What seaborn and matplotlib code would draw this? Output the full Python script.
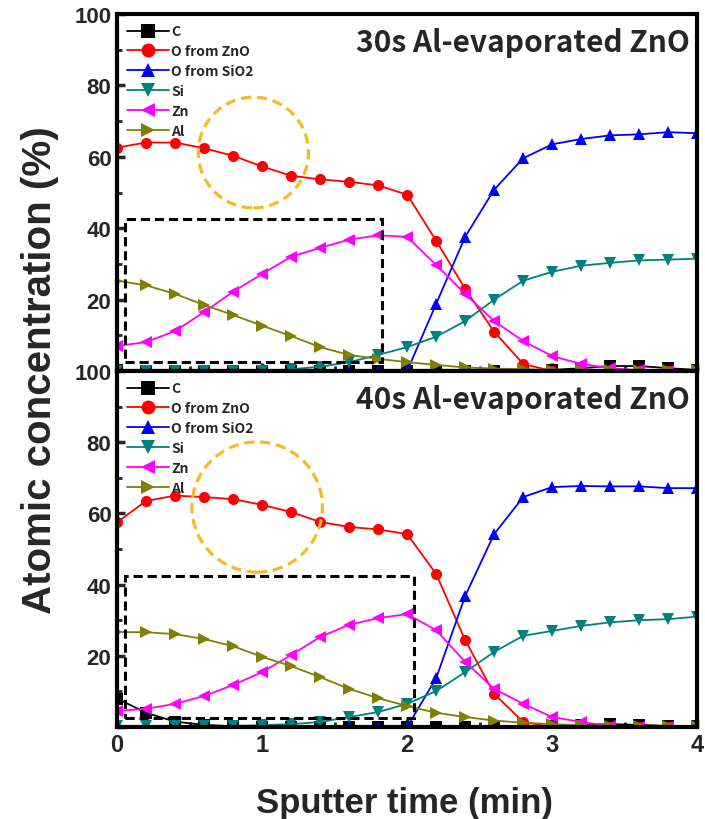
import numpy as np
import pandas as pd
import matplotlib
matplotlib.use("Agg")
import matplotlib.pyplot as plt
from matplotlib.patches import Ellipse, Rectangle
from matplotlib.ticker import MultipleLocator
import seaborn as sns

# ---------------- data ----------------
time_min = [0.0, 0.2, 0.4, 0.6, 0.8, 1.0, 1.2, 1.4, 1.6, 1.8, 2.0,
            2.2, 2.4, 2.6, 2.8, 3.0, 3.2, 3.4, 3.6, 3.8, 4.0]

series_names = ["C", "O from ZnO", "O from SiO2", "Si", "Zn", "Al"]

# top panel: 30s Al-evaporated ZnO
c_30 = [0.3, 0.0, 0.0, 0.0, 0.0, 0.0, 0.0, 0.0, 0.0, 0.0, 0.0,
        0.0, 0.0, 0.0, 0.0, 0.3, 0.8, 1.4, 1.4, 0.8, 0.3]
o_zno_30 = [62.6, 64.0, 64.0, 62.4, 60.3, 57.3, 54.7, 53.7, 53.0, 52.0, 49.4,
            36.5, 23.0, 11.0, 2.0, 0.0, 0.0, 0.0, 0.0, 0.0, 0.0]
o_sio2_30 = [0.0, 0.0, 0.0, 0.0, 0.0, 0.0, 0.0, 0.0, 0.0, 0.0, 0.0,
             18.8, 37.6, 50.8, 59.6, 63.5, 65.0, 66.0, 66.3, 66.9, 66.6]
si_30 = [0.0, 0.0, 0.0, 0.0, 0.0, 0.0, 0.5, 1.2, 2.5, 4.5, 6.7,
         9.6, 14.0, 20.0, 25.3, 27.8, 29.5, 30.3, 31.0, 31.2, 31.5]
zn_30 = [7.0, 8.1, 11.2, 16.5, 22.2, 27.2, 32.0, 34.5, 36.8, 38.0, 37.6,
         29.7, 21.6, 14.0, 8.4, 4.2, 2.0, 0.8, 0.2, 0.0, 0.0]
al_30 = [25.3, 24.0, 21.6, 18.5, 15.7, 12.7, 9.8, 6.7, 4.5, 3.4, 2.5,
         1.7, 1.0, 0.7, 0.5, 0.3, 0.2, 0.2, 0.2, 0.2, 0.2]

# bottom panel: 40s Al-evaporated ZnO
c_40 = [8.0, 4.0, 1.5, 0.6, 0.2, 0.0, 0.0, 0.0, 0.0, 0.0, 0.0,
        0.0, 0.0, 0.0, 0.0, 0.3, 0.6, 0.8, 0.6, 0.3, 0.2]
o_zno_40 = [57.5, 63.5, 65.0, 64.6, 64.0, 62.4, 60.4, 57.6, 56.2, 55.5, 54.2,
            43.0, 24.4, 9.3, 1.4, 0.0, 0.0, 0.0, 0.0, 0.0, 0.0]
o_sio2_40 = [0.0, 0.0, 0.0, 0.0, 0.0, 0.0, 0.0, 0.0, 0.0, 0.0, 0.0,
             13.7, 36.8, 54.2, 64.6, 67.4, 67.7, 67.6, 67.6, 67.1, 67.1]
si_40 = [0.2, 0.2, 0.2, 0.2, 0.3, 0.5, 0.8, 1.4, 2.8, 4.2, 6.5,
         10.1, 15.4, 21.1, 25.6, 27.0, 28.4, 29.4, 30.0, 30.3, 31.0]
zn_40 = [4.5, 5.1, 6.5, 8.7, 11.8, 15.4, 20.2, 25.3, 28.7, 30.6, 31.7,
         27.2, 18.3, 10.7, 6.5, 2.8, 1.4, 0.3, 0.0, 0.0, 0.0]
al_40 = [26.7, 26.6, 26.1, 24.7, 22.7, 19.7, 17.1, 14.0, 10.7, 8.1, 5.9,
         4.0, 2.8, 1.8, 1.2, 0.8, 0.5, 0.3, 0.3, 0.3, 0.3]

panel_titles = ["30s Al-evaporated ZnO", "40s Al-evaporated ZnO"]
y_ticks = [0, 20, 40, 60, 80, 100]
y_tick_labels = ["", "20", "40", "60", "80", "100"]
x_ticks = [0, 1, 2, 3, 4]
x_tick_labels = ["0", "1", "2", "3", "4"]

# annotation shapes (x, y, width, height in data units)
box_30 = (0.055, 2.5, 1.775, 40.0)
box_40 = (0.055, 2.5, 1.995, 40.0)
circle_30 = (0.94, 61.2, 0.76, 31.0)
circle_40 = (0.966, 61.8, 0.90, 36.6)

colors = ["#000000", "#FF0000", "#0000FF", "#008080", "#FF00FF", "#808000"]
markers = ["s", "o", "^", "v", "<", ">"]

# ---------------- style ----------------
sns.set_style("white")
plt.rcParams["font.family"] = ["Liberation Sans", "DejaVu Sans"]
plt.rcParams["axes.linewidth"] = 3.0

fig = plt.figure(figsize=(7.05, 8.2), dpi=100)
ax_top = fig.add_axes([0.166, 0.5463, 0.823, 0.4354])
ax_bot = fig.add_axes([0.166, 0.1122, 0.823, 0.4341])

panels = [
    (ax_top, [c_30, o_zno_30, o_sio2_30, si_30, zn_30, al_30], box_30, circle_30, panel_titles[0]),
    (ax_bot, [c_40, o_zno_40, o_sio2_40, si_40, zn_40, al_40], box_40, circle_40, panel_titles[1]),
]

for i, (ax, vals, box, circ, title) in enumerate(panels):
    df = pd.DataFrame({"time": np.tile(time_min, len(series_names)),
                       "conc": np.concatenate(vals),
                       "element": np.repeat(series_names, len(time_min))})
    for name, col, mk in zip(series_names, colors, markers):
        sub = df[df["element"] == name]
        sns.lineplot(data=sub, x="time", y="conc", ax=ax, color=col,
                     marker=mk, markersize=8, markeredgewidth=0,
                     linewidth=1.3, label=name, clip_on=True)

    ax.add_patch(Rectangle((box[0], box[1]), box[2], box[3], fill=False,
                           edgecolor="black", linewidth=2.2,
                           linestyle=(0, (3, 1.6)), zorder=5))
    ax.add_patch(Ellipse((circ[0], circ[1]), circ[2], circ[3], fill=False,
                         edgecolor="#F5BA24", linewidth=2.3,
                         linestyle=(0, (3.2, 1.8)), zorder=5))

    ax.set_xlim(0, 4)
    ax.set_ylim(0, 100)
    ax.set_yticks(y_ticks)
    ax.set_yticklabels(y_tick_labels, fontsize=16, fontweight="bold")
    ax.yaxis.set_minor_locator(MultipleLocator(10))
    ax.set_xticks(x_ticks)
    ax.xaxis.set_minor_locator(MultipleLocator(0.5))
    if i == 1:
        ax.set_xticklabels(x_tick_labels, fontsize=17, fontweight="bold")
    else:
        ax.set_xticklabels([])
    ax.tick_params(axis="both", which="major", direction="in", length=6,
                   width=2.5, pad=4, left=True, bottom=True)
    ax.tick_params(axis="both", which="minor", direction="in", length=3.5,
                   width=2.0, left=True, bottom=True)
    ax.set_xlabel("")
    ax.set_ylabel("")
    for s in ax.spines.values():
        s.set_linewidth(3.0)
        s.set_color("black")
        s.set_zorder(6)

    ax.text(0.988, 0.896, title, transform=ax.transAxes, ha="right",
            va="baseline", fontsize=21.5, fontweight="bold",
            family=["Noto Sans CJK KR", "DejaVu Sans"])

    leg = ax.legend(loc="upper left", bbox_to_anchor=(0.0, 1.0),
                    frameon=False, borderaxespad=0.0, borderpad=0.75,
                    handlelength=3.0, handletextpad=0.15, labelspacing=0.42,
                    markerscale=1.25,
                    prop={"family": ["Noto Sans CJK KR", "DejaVu Sans"],
                          "size": 10, "weight": "bold"})

fig.text(0.057, 0.549, "Atomic concentration (%)", rotation=90, ha="center",
         va="center", fontsize=29, fontweight="bold")
fig.text(0.574, 0.009, "Sputter time (min)", ha="center", va="baseline",
         fontsize=25, fontweight="bold")

fig.savefig("out.png", dpi=100)
